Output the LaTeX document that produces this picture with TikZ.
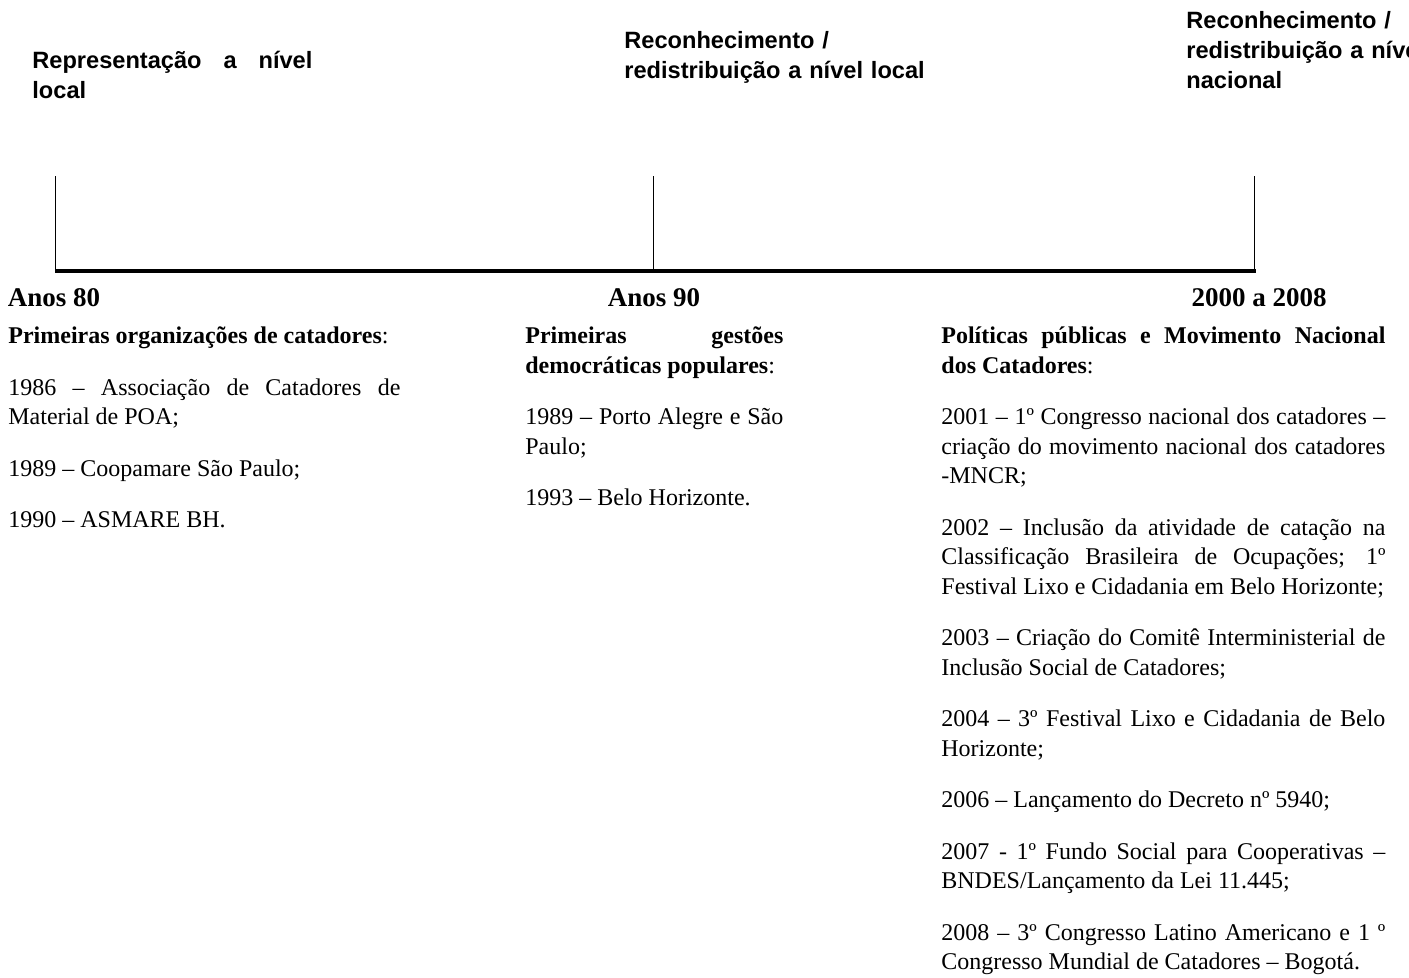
\documentclass[tikz,border=0pt]{standalone}
\usepackage{fontspec}
\setmainfont{Liberation Serif}
\setsansfont{Liberation Sans}
\usepackage{tikz}
\usetikzlibrary{positioning}

\hyphenpenalty=10000
\exhyphenpenalty=10000
\tolerance=10000

\tikzset{
  fase/.style={font=\sffamily\bfseries\fontsize{11.8}{15}\selectfont, anchor=base west, inner sep=0pt},
  ano/.style={font=\bfseries\fontsize{13.5}{16}\selectfont, anchor=base, inner sep=0pt},
  coluna/.style={font=\fontsize{12}{14.75}\selectfont, anchor=base west, inner sep=0pt, align=justify},
  eixo/.style={line width=2pt},
  marca/.style={line width=0.5pt}
}
\newcommand{\novopar}{\par\vspace{11pt}}

\begin{document}
\begin{tikzpicture}[x=0.5pt, y=-0.5pt]
				\useasboundingbox (0,0) rectangle (1409,978);
				\clip (0,0) rectangle (1409,978);
				% Fases:
				\node[fase, text width=140pt, align=justify] (fase80) at (32,69) {Representação a nível\linebreak local};
				\node[fase, text width=170pt, align=left] (fase90) at (624,49) {Reconhecimento /\\redistribuição a nível local};
				\node[fase, text width=170pt, align=left] (fase00) at (1186,29) {Reconhecimento /\\redistribuição a nível\\nacional};
				% Linha do tempo:
				\coordinate (t80) at (55,271);
				\coordinate (t90) at (653,271);
				\coordinate (t00) at (1254,271);
				\coordinate (fim) at (1256,271);
				\draw[marca] (t80) -- ++(0,-95);
				\draw[marca] (t90) -- ++(0,-95);
				\draw[marca] (t00) -- ++(0,-95);
				\draw[eixo] (t80) -- (fim);
				\node[ano] (ano80) at (54,307) {Anos 80};
				\node[ano] (ano90) at (654,307) {Anos 90};
				\node[ano] (ano00) at (1259,307) {2000 a 2008};
				% Acontecimentos:
				\node[coluna, text width=196pt] (col80) at (8,344) {%
					\textbf{Primeiras organizações de catadores}:\novopar
					1986 – Associação de Catadores de\linebreak Material de POA;\novopar
					1989 – Coopamare São Paulo;\novopar
					1990 – ASMARE BH.};
				\node[coluna, text width=129pt] (col90) at (525,344) {%
					\textbf{Primeiras gestões\linebreak democráticas populares}:\novopar
					1989 – Porto Alegre e São\linebreak Paulo;\novopar
					1993 – Belo Horizonte.};
				\node[coluna, text width=222pt] (col00) at (941,344) {%
					\textbf{Políticas públicas e Movimento Nacional\linebreak dos Catadores}:\novopar
					2001 – 1º Congresso nacional dos catadores –\linebreak criação do movimento nacional dos catadores\linebreak -MNCR;\novopar
					2002 – Inclusão da atividade de catação na\linebreak Classificação Brasileira de Ocupações; 1º\linebreak Festival Lixo e Cidadania em Belo Horizonte;\novopar
					2003 – Criação do Comitê Interministerial de\linebreak Inclusão Social de Catadores;\novopar
					2004 – 3º Festival Lixo e Cidadania de Belo\linebreak Horizonte;\novopar
					2006 – Lançamento do Decreto nº 5940;\novopar
					2007 - 1º Fundo Social para Cooperativas –\linebreak BNDES/Lançamento da Lei 11.445;\novopar
					2008 – 3º Congresso Latino Americano e 1 º\linebreak Congresso Mundial de Catadores – Bogotá.};
			\end{tikzpicture}
\end{document}
